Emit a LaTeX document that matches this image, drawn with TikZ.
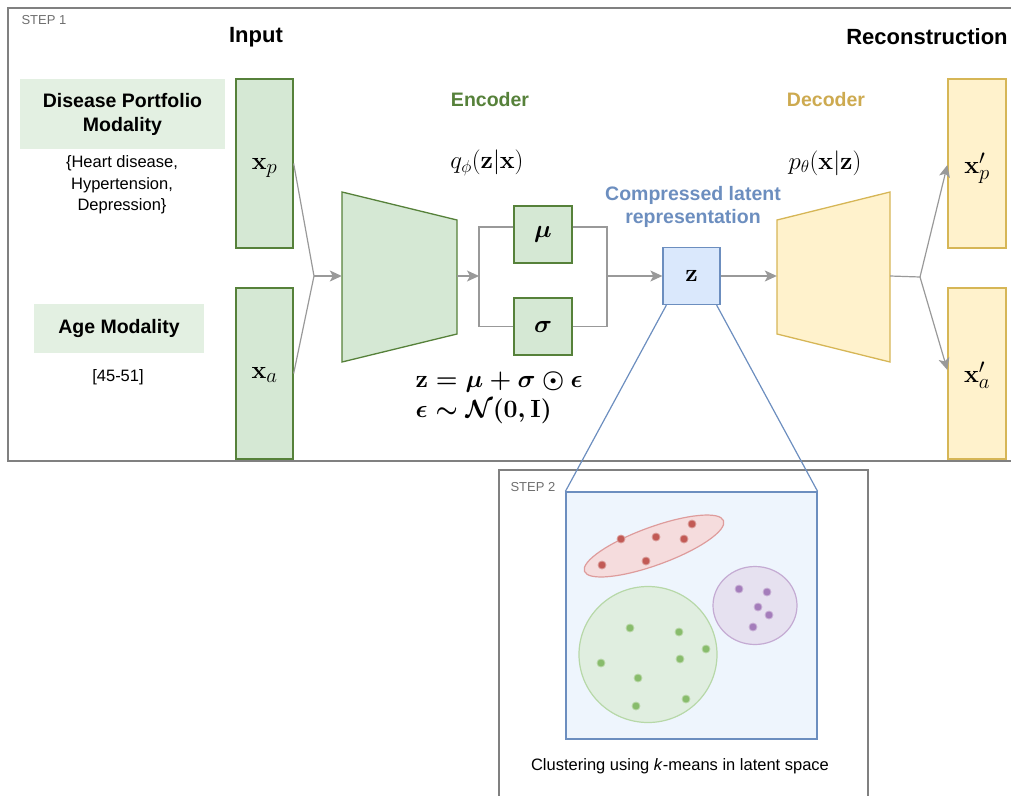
\documentclass[tikz,border=0pt]{standalone}
\usepackage[no-math]{fontspec}
\setmainfont{Liberation Sans}
\usepackage{amsmath,amssymb,bm}
\usetikzlibrary{arrows.meta}
\definecolor{gfill}{HTML}{D5E8D4}
\definecolor{gline}{HTML}{56813A}
\definecolor{glight}{HTML}{E3F0E2}
\definecolor{yfill}{HTML}{FFF2CC}
\definecolor{yline}{HTML}{D6B656}
\definecolor{ytext}{HTML}{CDAA50}
\definecolor{bfill}{HTML}{DAE8FC}
\definecolor{bline}{HTML}{6C8EBF}
\definecolor{latfill}{HTML}{EEF5FD}
\definecolor{conncol}{HTML}{999999}
\definecolor{framecol}{HTML}{808080}
\definecolor{steptext}{HTML}{6E6E6E}
\definecolor{rfill}{HTML}{F5DCDD}
\definecolor{rline}{HTML}{DE9C9C}
\definecolor{rdot}{HTML}{C25A55}
\definecolor{gcfill}{HTML}{E0EEE0}
\definecolor{gcline}{HTML}{B7D8A8}
\definecolor{gdot}{HTML}{88BC6C}
\definecolor{pfill}{HTML}{E6E1F0}
\definecolor{pline}{HTML}{C4ABD3}
\definecolor{pdot}{HTML}{A47DBB}
\tikzset{
  gbox/.style={draw=gline, fill=gfill, line width=1.3pt, inner sep=0pt},
  ybox/.style={draw=yline, fill=yfill, line width=1.3pt, inner sep=0pt},
  bbox/.style={draw=bline, fill=bfill, line width=1.3pt, inner sep=0pt},
  conn/.style={draw=conncol, line width=1.2pt},
  arr/.style={conn, -{Stealth[length=12pt,width=11pt,inset=3pt]}},
  zoomline/.style={draw=bline, line width=1.2pt},
  frame/.style={draw=framecol, line width=1.3pt},
  bigtitle/.style={font=\fontsize{22}{26}\selectfont\bfseries},
  midtitle/.style={font=\fontsize{19.5}{22.5}\selectfont\bfseries, align=center},
  plain/.style={font=\fontsize{16.5}{21.5}\selectfont, align=center},
  steplbl/.style={font=\fontsize{13}{15}\selectfont, text=steptext, anchor=west},
  modbox/.style={fill=glight, inner sep=0pt, align=center, font=\fontsize{19.5}{24}\selectfont\bfseries},
  vlbl/.style={font=\fontsize{30}{34}\selectfont},
  mlbl/.style={font=\fontsize{23.5}{28}\selectfont},
  greek/.style={font=\fontsize{31}{34}\selectfont},
  dotr/.style={fill=rdot, draw=rdot!60!white, line width=0.8pt},
  dotg/.style={fill=gdot, draw=gdot!60!white, line width=0.8pt},
  dotp/.style={fill=pdot, draw=pdot!60!white, line width=0.8pt},
}
\begin{document}
\begin{tikzpicture}[x=1pt,y=-1pt]
\useasboundingbox (0,0) rectangle (1011,795);
% frames
\draw[frame] (1015,8) -- (8,8) -- (8,461) -- (1015,461);
\draw[frame] (499,800) -- (499,470) -- (868,470) -- (868,800);
\node[steplbl] (s1) at (18,20) {STEP 1};
\node[steplbl] (s2) at (507,487) {STEP 2};
% titles
\node[bigtitle] (tin) at (256,37) {Input};
\node[bigtitle] (trec) at (927,37) {Reconstruction};
\node[midtitle, text=gline] (tenc) at (490,100) {Encoder};
\node[midtitle, text=ytext] (tdec) at (826,100) {Decoder};
\node[midtitle, text=bline] (tlat) at (693,207) {Compressed latent\\representation};
% modality boxes
\node[modbox, minimum width=205pt, minimum height=70pt] (dpm) at (122.5,114) {Disease Portfolio\\Modality};
\node[plain] (dpmt) at (122,185) {\{Heart disease,\\Hypertension,\\Depression\}};
\node[modbox, minimum width=170pt, minimum height=49pt] (age) at (119,328.5) {Age Modality};
\node[plain] (aget) at (118,377) {[45-51]};
% input boxes
\node[gbox, minimum width=57pt, minimum height=169pt] (xp) at (264.5,163.5) {};
\node[vlbl] (xpl) at (264.5,168) {$\mathbf{x}_p$};
\node[gbox, minimum width=57pt, minimum height=171pt] (xa) at (264.5,373.5) {};
\node[vlbl] (xal) at (264.5,375) {$\mathbf{x}_a$};
% encoder
\node[inner sep=0pt, minimum width=115pt, minimum height=170pt] (enc) at (399.5,276) {};
\draw[gbox] (342,192) -- (457,220) -- (457,334) -- (342,362) -- cycle;
\node[mlbl] (q) at (487,163) {$q_\phi(\mathbf{z}|\mathbf{x})$};
% mu sigma
\node[gbox, greek, minimum width=58pt, minimum height=57pt] (mu) at (543,234.5) {$\boldsymbol{\mu}$};
\node[gbox, greek, minimum width=58pt, minimum height=57pt] (sg) at (543,326.5) {$\boldsymbol{\sigma}$};
\coordinate (bl) at (479,276);
\coordinate (br) at (607,276);
% equations
\node[anchor=west, font=\fontsize{23}{30}\selectfont\boldmath, align=left] (eq) at (412,398) {$\mathbf{z}=\mu+\sigma\odot\epsilon$\\$\epsilon\sim\mathcal{N}(\mathbf{0},\mathbf{I})$};
% z
\node[bbox, minimum width=57pt, minimum height=57pt, font=\fontsize{28}{32}\selectfont] (z) at (691.5,276) {$\mathbf{z}$};
% decoder
\node[inner sep=0pt, minimum width=113pt, minimum height=170pt] (dec) at (833.5,276) {};
\draw[ybox] (777,220) -- (890,192) -- (890,362) -- (777,334) -- cycle;
\node[mlbl] (p) at (825,163) {$p_\theta(\mathbf{x}|\mathbf{z})$};
% outputs
\node[ybox, minimum width=58pt, minimum height=169pt] (xpp) at (977,163.5) {};
\node[vlbl] (xppl) at (977,168) {$\mathbf{x}'_p$};
\node[ybox, minimum width=58pt, minimum height=171pt] (xap) at (977,373.5) {};
\node[vlbl] (xapl) at (977,375) {$\mathbf{x}'_a$};
\coordinate (j1) at (314,276);
\coordinate (j2) at (920,277);
% connectors
\draw[conn] (xp.east) -- (j1);
\draw[conn] (xa.east) -- (j1);
\draw[arr] (j1) -- (enc.west);
\draw[arr] (enc.east) -- (bl);
\draw[conn] ([yshift=7.5pt]mu.west) -| (bl) |- (sg.west);
\draw[conn] ([yshift=7.5pt]mu.east) -| (br) |- (sg.east);
\draw[arr] (br) -- (z.west);
\draw[arr] (z.east) -- (dec.west);
\draw[conn] (dec.east) -- (j2);
\draw[arr] (j2) -- ([yshift=-1.5pt]xpp.west);
\draw[arr] (j2) -- ([yshift=3.5pt]xap.west);
% latent space
\node[draw=bline, fill=latfill, line width=1.2pt, minimum width=251pt, minimum height=247pt, inner sep=0pt] (lat) at (691.5,615.5) {};
\draw[zoomline] ([xshift=4pt]z.south west) -- (lat.north west);
\draw[zoomline] ([xshift=-4pt]z.south east) -- (lat.north east);
\node[plain] (cap) at (680,766) {Clustering using \textit{k}-means in latent space};
% clusters
\draw[draw=rline, fill=rfill, line width=1.2pt, rotate around={20:(654,546)}] (654,546) ellipse [x radius=74, y radius=19];
\draw[draw=gcline, fill=gcfill, line width=1.2pt] (648,654.5) ellipse [x radius=69, y radius=68];
\draw[draw=pline, fill=pfill, line width=1.2pt] (755,605.5) ellipse [x radius=42, y radius=39];
\foreach \px/\py in {621/539, 656/537, 684/539, 692/524, 602/565, 646/561}
  \draw[dotr] (\px,\py) circle [radius=4];
\foreach \px/\py in {630/628, 679/632, 706/649, 680/659, 601/663, 638/678, 636/706, 686/699}
  \draw[dotg] (\px,\py) circle [radius=4];
\foreach \px/\py in {739/589, 767/592, 758/607, 769/615, 753/627}
  \draw[dotp] (\px,\py) circle [radius=4];
\end{tikzpicture}
\end{document}
